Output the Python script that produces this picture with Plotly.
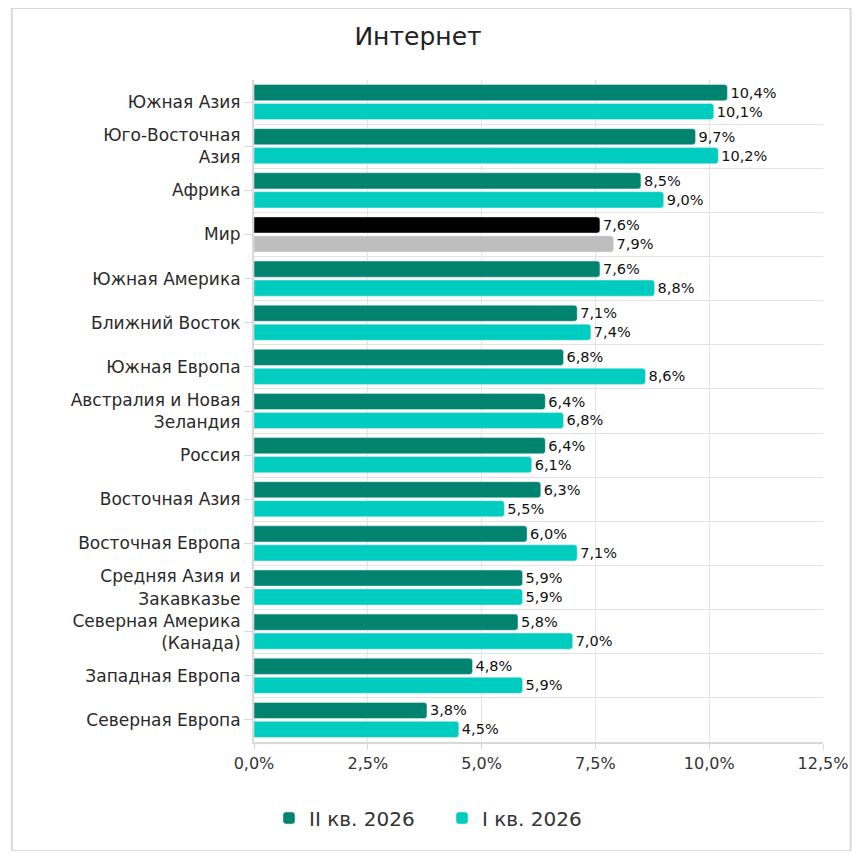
import plotly.graph_objects as go

# Данные
regions = [
    "Южная Азия", "Юго-Восточная<br>Азия", "Африка", "Мир", "Южная Америка",
    "Ближний Восток", "Южная Европа", "Австралия и Новая<br>Зеландия", "Россия",
    "Восточная Азия", "Восточная Европа", "Средняя Азия и<br>Закавказье",
    "Северная Америка<br>(Канада)", "Западная Европа", "Северная Европа",
]
q2_2026 = [10.4, 9.7, 8.5, 7.6, 7.6, 7.1, 6.8, 6.4, 6.4, 6.3, 6.0, 5.9, 5.8, 4.8, 3.8]
q1_2026 = [10.1, 10.2, 9.0, 7.9, 8.8, 7.4, 8.6, 6.8, 6.1, 5.5, 7.1, 5.9, 7.0, 5.9, 4.5]
x_ticks = [0, 2.5, 5, 7.5, 10, 12.5]
x_tick_labels = ["0,0%", "2,5%", "5,0%", "7,5%", "10,0%", "12,5%"]

DARK = "#008470"
LIGHT = "#00CCC0"
pos = list(range(len(regions)))

# "Мир" выделяем отдельными цветами
dark_colors = ["#000000" if r == "Мир" else DARK for r in regions]
light_colors = ["#BEBEBE" if r == "Мир" else LIGHT for r in regions]

FONT = "DejaVu Sans"
W, H = 852, 843  # страница добавляет отступ 8px
L, R, T, B = 246, 28, 72, 109

fig = go.Figure()
fig.add_trace(go.Bar(
    y=pos, x=q2_2026, orientation="h", name="II кв. 2026",
    marker=dict(color=dark_colors, cornerradius=3),
    texttemplate="%{x:.1f}%", textposition="outside", constraintext="none",
    textfont=dict(size=14.5, color="#111111"), cliponaxis=False,
))
fig.add_trace(go.Bar(
    y=pos, x=q1_2026, orientation="h", name="I кв. 2026",
    marker=dict(color=light_colors, cornerradius=3),
    texttemplate="%{x:.1f}%", textposition="outside", constraintext="none",
    textfont=dict(size=14.5, color="#111111"), cliponaxis=False,
))

fig.update_layout(
    width=W, height=H,
    font=dict(family=FONT, color="#333333"),
    separators=", ",
    title=dict(text="Интернет", x=410 / W, xanchor="center", xref="container",
               y=1 - 28 / H, yanchor="middle", yref="container",
               font=dict(size=25, color="#222222")),
    barmode="group", bargap=0.14, bargroupgap=0.15,
    plot_bgcolor="white", paper_bgcolor="white",
    margin=dict(l=L, r=R, t=T, b=B),
    legend=dict(orientation="h", xref="container", x=0.5 + 8 / W, xanchor="center",
                yref="container", y=1 - 810 / H, yanchor="middle",
                font=dict(size=20, color="#333333"), itemwidth=30,
                entrywidth=128, traceorder="normal"),
    showlegend=True,
)

fig.update_xaxes(
    range=[0, 12.5], tickvals=x_ticks, ticktext=x_tick_labels,
    showgrid=True, gridcolor="#E3E3E3", gridwidth=1,
    showline=True, linecolor="#D9D9D9", linewidth=2,
    ticks="outside", ticklen=6, tickcolor="#D9D9D9",
    tickfont=dict(size=16, color="#333333"), zeroline=False,
)
fig.update_yaxes(
    range=[len(regions) - 0.5, -0.5], tickvals=pos, ticktext=regions,
    showgrid=False, zeroline=False,
    showline=True, linecolor="#D9D9D9", linewidth=2,
    ticks="outside", ticklen=8, tickcolor="#D9D9D9",
    tickfont=dict(size=17, color="#2A2A2A"),
    minor=dict(tickvals=[p + 0.5 for p in pos[:-1]], showgrid=True,
               gridcolor="#E3E3E3", gridwidth=1, ticks=""),
)

# рамка вокруг картинки
pw, ph = W - L - R, H - T - B
fig.add_shape(type="rect", xref="paper", yref="paper",
              x0=-L / pw, x1=1 + R / pw, y0=-B / ph, y1=1 + T / ph,
              line=dict(color="#D9D9D9", width=2), layer="below")

fig.write_html("out.html")
